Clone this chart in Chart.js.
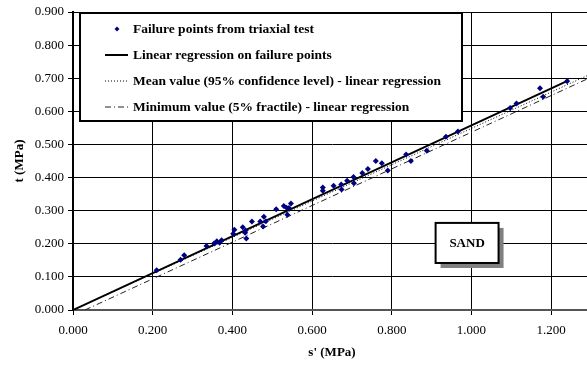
<!DOCTYPE html>
<html>
<head>
<meta charset="utf-8">
<script src="https://cdn.jsdelivr.net/npm/chart.js@4.4.0/dist/chart.umd.min.js"></script>
<style>
html, body { margin: 0; padding: 0; background: #fff; overflow: hidden; }
#wrap { width: 595px; height: 367px; }
</style>
</head>
<body>
<div id="wrap"><canvas id="chart" width="595" height="367"></canvas></div>
<script>
// failure points (s', t) in MPa
var pointS = [0.210, 0.270, 0.279, 0.335, 0.354, 0.361, 0.368, 0.373,
    0.402, 0.405, 0.426, 0.432, 0.433, 0.435, 0.449, 0.470, 0.477, 0.479, 0.484,
    0.510, 0.529, 0.536, 0.542, 0.547, 0.538,
    0.627, 0.627, 0.654, 0.673, 0.674, 0.688, 0.704, 0.705, 0.726, 0.740,
    0.760, 0.775, 0.790, 0.836, 0.848, 0.888, 0.936, 0.966,
    1.097, 1.113, 1.172, 1.180, 1.240];
var pointT = [0.120, 0.152, 0.165, 0.193, 0.201, 0.208, 0.203, 0.211,
    0.230, 0.242, 0.250, 0.233, 0.240, 0.216, 0.267, 0.267, 0.252, 0.282, 0.268,
    0.304, 0.314, 0.309, 0.308, 0.322, 0.288,
    0.370, 0.360, 0.375, 0.379, 0.364, 0.390, 0.402, 0.383, 0.414, 0.426,
    0.450, 0.443, 0.421, 0.470, 0.450, 0.481, 0.523, 0.539,
    0.610, 0.624, 0.670, 0.644, 0.691];

// regression lines (end points)
var regS = [0.000, 1.245];
var regT = [0.000, 0.694];
var meanS = [0.000, 1.300];
var meanT = [0.000, 0.713];
var minS = [0.030, 1.300];
var minT = [0.000, 0.703];

var xTicks = [0, 0.2, 0.4, 0.6, 0.8, 1.0, 1.2];
var yTicks = [0, 0.1, 0.2, 0.3, 0.4, 0.5, 0.6, 0.7, 0.8, 0.9];

var seriesLabels = [
    'Failure points from triaxial test',
    'Linear regression on failure points',
    'Mean value (95% confidence level) - linear regression',
    'Minimum value (5% fractile) - linear regression'
];
var boxLabel = 'SAND';
// SAND label box corners in data units
var boxS = [0.910, 1.068];
var boxT = [0.263, 0.142];

var serif = '"Liberation Serif", "Times New Roman", serif';

function toXY(xs, ys) {
    var out = [];
    for (var i = 0; i < xs.length; i++) {
        out.push({x: xs[i], y: ys[i]});
    }
    return out;
}

var overlay = {
    id: 'overlay',
    afterDraw: function(chart) {
        var ctx = chart.ctx;
        var area = chart.chartArea;
        var xs = chart.scales.x;
        var ys = chart.scales.y;

        // SAND box with shadow
        var bx0 = xs.getPixelForValue(boxS[0]), bx1 = xs.getPixelForValue(boxS[1]);
        var by0 = ys.getPixelForValue(boxT[0]), by1 = ys.getPixelForValue(boxT[1]);
        ctx.save();
        ctx.fillStyle = '#808080';
        ctx.fillRect(bx0 + 5, by0 + 5, bx1 - bx0, by1 - by0);
        ctx.fillStyle = '#fff';
        ctx.fillRect(bx0, by0, bx1 - bx0, by1 - by0);
        ctx.strokeStyle = '#000';
        ctx.lineWidth = 2;
        ctx.strokeRect(bx0, by0, bx1 - bx0, by1 - by0);
        ctx.fillStyle = '#000';
        ctx.font = 'bold 13px ' + serif;
        ctx.textAlign = 'center';
        ctx.textBaseline = 'middle';
        ctx.fillText(boxLabel, (bx0 + bx1) / 2, (by0 + by1) / 2 + 1);

        // legend box
        var lx = area.left + 7, ly = area.top + 1, lw = 382, lh = 108;
        ctx.fillStyle = '#fff';
        ctx.fillRect(lx, ly, lw, lh);
        ctx.strokeStyle = '#000';
        ctx.lineWidth = 2;
        ctx.strokeRect(lx, ly, lw, lh);

        var dsets = chart.data.datasets;
        ctx.font = 'bold 13.5px ' + serif;
        ctx.textAlign = 'left';
        for (var i = 0; i < dsets.length; i++) {
            var ds = dsets[i];
            var ry = ly + 16 + i * 26;
            if (ds.showLine) {
                ctx.beginPath();
                ctx.strokeStyle = ds.borderColor;
                ctx.lineWidth = ds.borderWidth;
                ctx.setLineDash(ds.borderDash || []);
                ctx.moveTo(lx + 25, ry);
                ctx.lineTo(lx + 48, ry);
                ctx.stroke();
                ctx.setLineDash([]);
            } else {
                ctx.beginPath();
                ctx.fillStyle = ds.backgroundColor;
                ctx.moveTo(lx + 37, ry - 2.5);
                ctx.lineTo(lx + 39.5, ry);
                ctx.lineTo(lx + 37, ry + 2.5);
                ctx.lineTo(lx + 34.5, ry);
                ctx.closePath();
                ctx.fill();
            }
            ctx.fillStyle = '#000';
            ctx.fillText(ds.label, lx + 53, ry + 1);
        }
        ctx.restore();
    }
};

var ctx = document.getElementById('chart');
var chart = new Chart(ctx, {
    type: 'scatter',
    data: {
        datasets: [{
            label: seriesLabels[0],
            data: toXY(pointS, pointT),
            pointStyle: 'rectRot',
            pointRadius: 3,
            backgroundColor: '#000080',
            borderColor: '#000080',
            borderWidth: 0,
            showLine: false
        }, {
            label: seriesLabels[1],
            data: toXY(regS, regT),
            showLine: true,
            pointRadius: 0,
            borderColor: '#000',
            borderWidth: 2
        }, {
            label: seriesLabels[2],
            data: toXY(meanS, meanT),
            showLine: true,
            pointRadius: 0,
            borderColor: '#000',
            borderWidth: 1,
            borderDash: [1, 2]
        }, {
            label: seriesLabels[3],
            data: toXY(minS, minT),
            showLine: true,
            pointRadius: 0,
            borderColor: '#222',
            borderWidth: 1,
            borderDash: [6, 3, 1, 3]
        }]
    },
    options: {
        responsive: false,
        animation: false,
        devicePixelRatio: 1,
        layout: { padding: { top: 12, right: 3, left: 0, bottom: 0 } },
        plugins: {
            legend: { display: false },
            tooltip: { enabled: false }
        },
        scales: {
            x: {
                type: 'linear',
                min: 0,
                max: 1.3,
                afterBuildTicks: function(scale) {
                    scale.ticks = xTicks.map(function(v) { return {value: v}; });
                },
                afterFit: function(scale) { scale.height = 57; },
                grid: { color: '#000', lineWidth: 1, tickLength: 5 },
                border: { color: '#555', width: 2 },
                ticks: {
                    color: '#000',
                    padding: 8,
                    maxRotation: 0,
                    font: { family: serif, size: 13 },
                    callback: function(v) { return Number(v).toFixed(3); }
                },
                title: {
                    display: true,
                    text: "s' (MPa)",
                    color: '#000',
                    font: { family: serif, size: 13, weight: 'bold' },
                    padding: { top: 0, bottom: 7 }
                }
            },
            y: {
                type: 'linear',
                min: 0,
                max: 0.9,
                afterBuildTicks: function(scale) {
                    scale.ticks = yTicks.map(function(v) { return {value: v}; });
                },
                afterFit: function(scale) { scale.width = 73; },
                grid: { color: '#000', lineWidth: 1, tickLength: 5 },
                border: { color: '#000', width: 2 },
                ticks: {
                    color: '#000',
                    padding: 4,
                    font: { family: serif, size: 13 },
                    callback: function(v) { return Number(v).toFixed(3); }
                },
                title: {
                    display: true,
                    text: 't (MPa)',
                    color: '#000',
                    font: { family: serif, size: 13, weight: 'bold' },
                    padding: { top: 12, bottom: 0 }
                }
            }
        }
    },
    plugins: [overlay]
});
</script>
</body>
</html>
